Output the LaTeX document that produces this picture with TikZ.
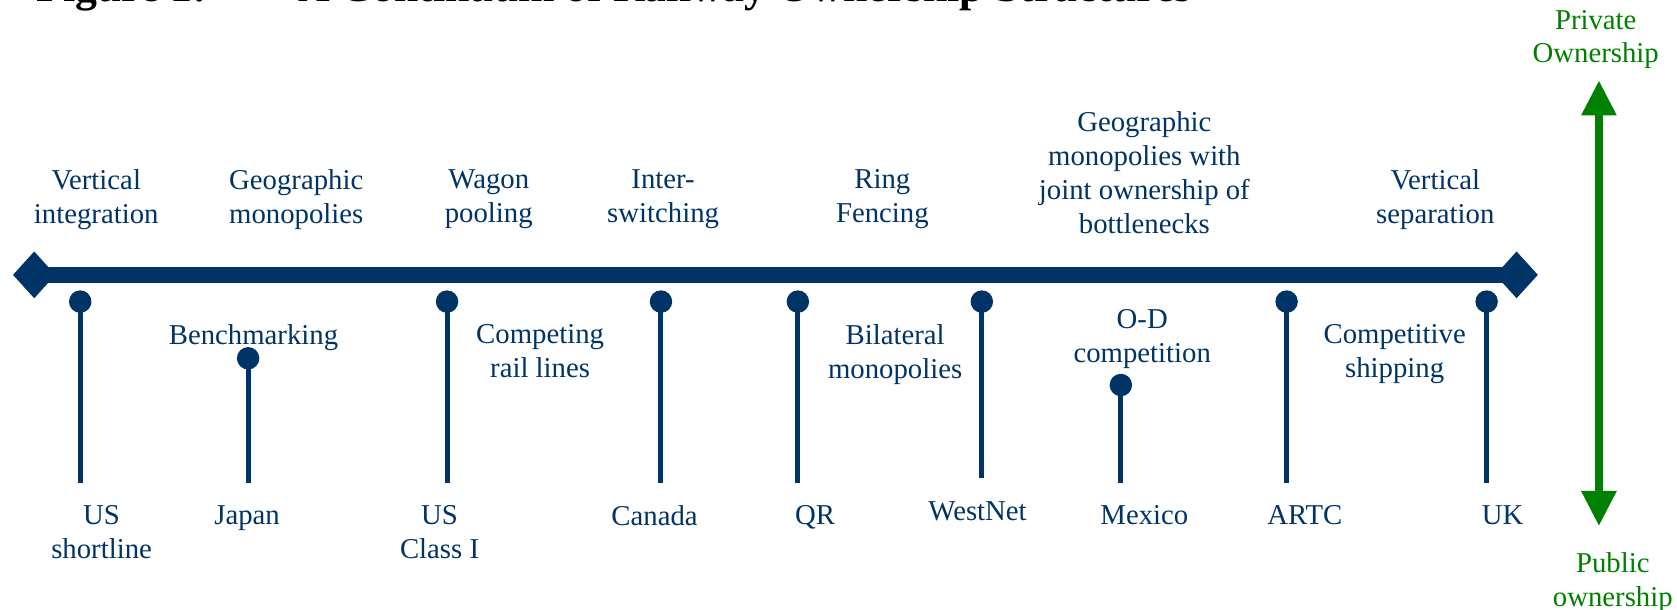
\documentclass[tikz,border=0pt]{standalone}
\usepackage{fontspec}
\setmainfont{Liberation Serif}
\usetikzlibrary{shapes.geometric,arrows.meta}
\definecolor{navy}{RGB}{0,51,102}
\definecolor{ogreen}{RGB}{0,128,0}
\tikzset{
 lbl/.style={font=\fontsize{15.3}{18}\selectfont, text=navy, align=center, inner sep=0pt, anchor=north},
 glbl/.style={lbl, text=ogreen},
 endmark/.style={diamond, fill=navy, inner sep=0pt, minimum width=0.8cm, minimum height=0.88cm},
 bar/.style={navy, line width=0.3cm},
 pinline/.style={navy, line width=0.094cm},
 pinhead/.style={circle, fill=navy, inner sep=0pt, minimum size=0.42cm},
 axisarrow/.style={ogreen, line width=0.16cm, {Triangle[length=0.66cm,width=0.62cm]}-{Triangle[length=0.66cm,width=0.62cm]}},
 titletext/.style={font=\fontsize{23.3}{28}\selectfont\bfseries, anchor=base west, inner sep=0pt}
}
\begin{document}
\begin{tikzpicture}[x=0.02cm,y=-0.02cm]
\useasboundingbox (0,0) rectangle (1568,570);
\clip (0,0) rectangle (1568,570);
% title (cut off at the top edge)
\node[titletext] (t1) at (33.7,1.5) {Figure 1:};
\node[titletext] (t2) at (278.6,1.5) {A Continuum of Railway Ownership Structures};
% main bar
\node[endmark] (L) at (32,257) {};
\node[endmark] (R) at (1418,257) {};
\draw[bar] (L.center) -- (R.center);
% pins
\foreach \n/\x/\y/\b in {p1/75/282/452, p2/232/335/452, p3/418/282/452, p4/618/282/452, p5/746/282/452, p6/918/282/447, p7/1048/360/452, p8/1203/282/452, p9/1390/282/452}{
  \coordinate (\n b) at (\x,\b);
  \draw[pinline] (\x,\y) -- (\n b);
  \node[pinhead] (\n) at (\x,\y) {};
}
% top labels
\node[lbl] (a1) at (90,158) {Vertical\\integration};
\node[lbl] (a2) at (277,158) {Geographic\\monopolies};
\node[lbl] (a3) at (457,158) {Wagon\\pooling};
\node[lbl] (a4) at (620,158) {Inter-\\switching};
\node[lbl] (a5) at (825,158) {Ring\\Fencing};
\node[lbl] (a6) at (1070,104) {Geographic\\monopolies with\\joint ownership of\\bottlenecks};
\node[lbl] (a7) at (1342,158) {Vertical\\separation};
% middle labels
\node[lbl] (m1) at (237,303) {Benchmarking};
\node[lbl] (m2) at (505,303) {Competing\\rail lines};
\node[lbl] (m3) at (837,303) {Bilateral\\monopolies};
\node[lbl] (m4) at (1068,289) {O-D\\competition};
\node[lbl] (m5) at (1304,303) {Competitive\\shipping};
% bottom labels
\node[lbl] (b1) at (95,472) {US\\shortline};
\node[lbl] (b2) at (231,472) {Japan};
\node[lbl] (b3) at (411,472) {US\\Class I};
\node[lbl] (b4) at (612,472) {Canada};
\node[lbl] (b5) at (762,472) {QR};
\node[lbl] (b6) at (914,469) {WestNet};
\node[lbl] (b7) at (1070,472) {Mexico};
\node[lbl] (b8) at (1220,472) {ARTC};
\node[lbl] (b9) at (1405,472) {UK};
% ownership axis
\node[glbl] (priv) at (1492,9) {Private\\Ownership};
\node[glbl] (pub) at (1508,516) {Public\\ownership};
\coordinate (gtop) at (1495,75);
\coordinate (gbot) at (1495,492);
\draw[axisarrow] (gbot) -- (gtop);
\end{tikzpicture}
\end{document}
